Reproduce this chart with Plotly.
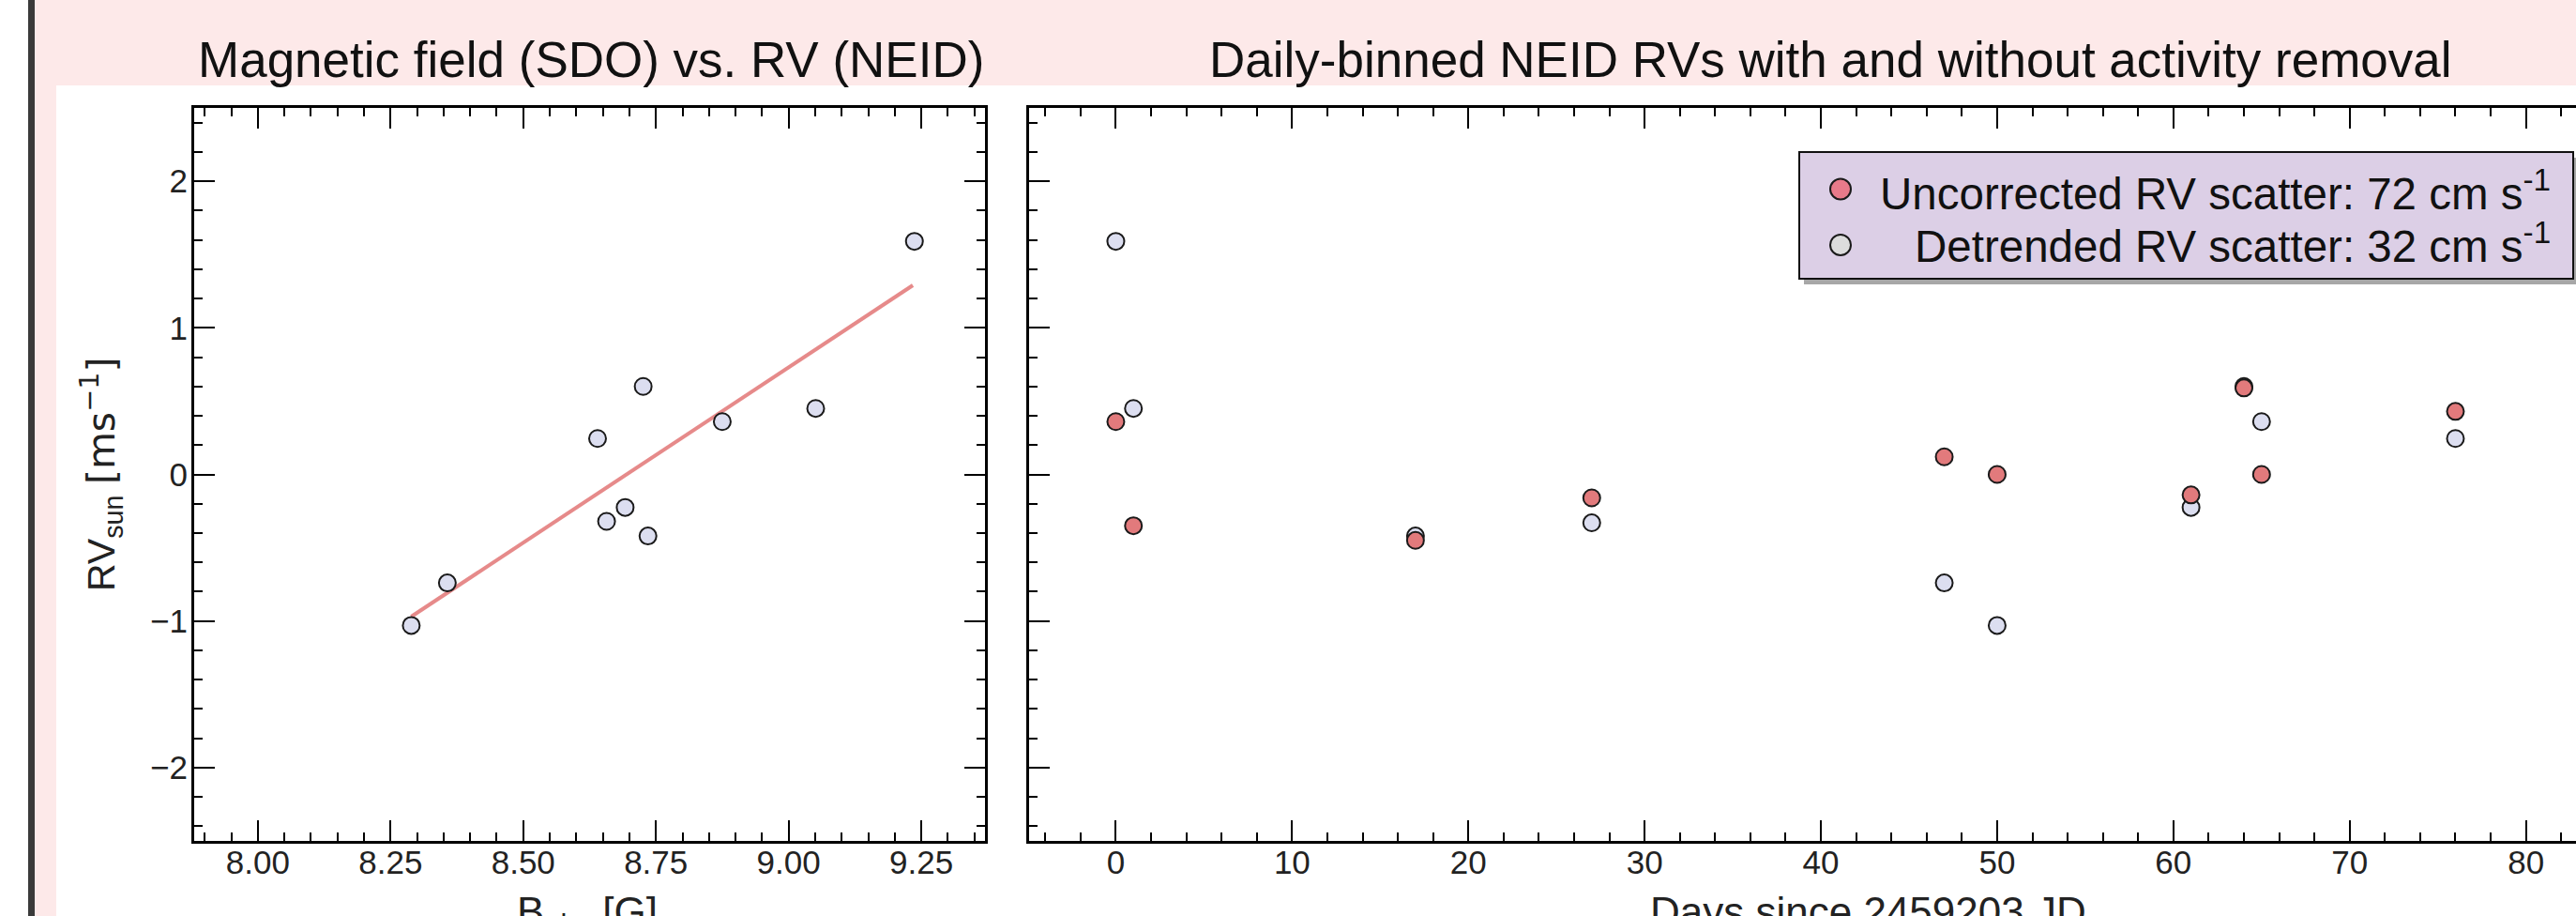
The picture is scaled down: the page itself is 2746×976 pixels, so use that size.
import plotly.graph_objects as go

W, H = 2746, 976

# ---------------- data ----------------
# Left panel: magnetic field (SDO) vs RV (NEID)
b_obs = [8.289, 8.357, 8.640, 8.657, 8.692, 8.726, 8.735, 8.875, 9.051, 9.237]
rv_sun = [-1.03, -0.74, 0.245, -0.32, -0.225, 0.60, -0.42, 0.36, 0.45, 1.59]
fit_b = [8.289, 9.234]
fit_rv = [-0.97, 1.29]

# Right panel: daily-binned NEID RVs
days = [0, 1, 17, 27, 47, 50, 61, 64, 65, 76]
rv_uncorrected = [0.36, -0.35, -0.45, -0.16, 0.12, 0.0, -0.14, 0.59, 0.0, 0.43]
rv_detrended = [1.59, 0.45, -0.42, -0.33, -0.74, -1.03, -0.225, 0.60, 0.36, 0.245]

legend_labels = ["Uncorrected RV scatter: 72 cm s<sup>-1</sup>",
                 "Detrended RV scatter: 32 cm s<sup>-1</sup>"]
titles = ["Magnetic field (SDO) vs. RV (NEID)",
          "Daily-binned NEID RVs with and without activity removal"]

# ---------------- styles ----------------
FONT = "Liberation Sans, Arial, Helvetica, sans-serif"
RED = "#e27a7c"
LAV = "#dcdef0"
EDGE = "#1a1a1a"


def px(x):
    return x / W


def py(y):
    return 1 - y / H


fig = go.Figure()

fig.add_trace(go.Scatter(x=fit_b, y=fit_rv, mode="lines", xaxis="x", yaxis="y",
                         line=dict(color="rgba(226,118,118,0.85)", width=4),
                         showlegend=False, hoverinfo="skip"))
fig.add_trace(go.Scatter(x=b_obs, y=rv_sun, mode="markers", xaxis="x", yaxis="y",
                         marker=dict(size=18, color=LAV, line=dict(color=EDGE, width=2)),
                         showlegend=False))
fig.add_trace(go.Scatter(x=days, y=rv_detrended, mode="markers", xaxis="x2", yaxis="y2",
                         marker=dict(size=18, color=LAV, line=dict(color=EDGE, width=2)),
                         name="Detrended", showlegend=False))
fig.add_trace(go.Scatter(x=days, y=rv_uncorrected, mode="markers", xaxis="x2", yaxis="y2",
                         marker=dict(size=18, color=RED, line=dict(color=EDGE, width=2)),
                         name="Uncorrected", showlegend=False))

common = dict(showline=True, linecolor="black", linewidth=3, ticks="inside",
              ticklen=22, tickwidth=2, tickcolor="black", showgrid=False,
              zeroline=False, tickfont=dict(family=FONT, size=35, color="#222"))

ydom = [py(896), py(115)]

fig.update_layout(
    width=W, height=H,
    margin=dict(l=0, r=0, t=0, b=0),
    paper_bgcolor="white", plot_bgcolor="rgba(0,0,0,0)",
    showlegend=False,
    xaxis=dict(domain=[px(207), px(1050)], range=[7.88, 9.37], anchor="y",
               tickmode="linear", tick0=8.0, dtick=0.25, tickformat=".2f",
               mirror="allticks", ticklabelstandoff=-10,
               minor=dict(ticks="inside", ticklen=9, tickwidth=1.5, tickcolor="black",
                          dtick=0.05, tick0=8.0, showgrid=False),
               **common),
    yaxis=dict(domain=ydom, range=[-2.5, 2.5], anchor="x",
               tickmode="linear", tick0=0, dtick=1, mirror="allticks",
               ticklabelstandoff=-3,
               minor=dict(ticks="inside", ticklen=9, tickwidth=1.5, tickcolor="black",
                          dtick=0.2, tick0=0, showgrid=False),
               **common),
    xaxis2=dict(domain=[px(1097), 1.0], range=[-4.92, 82.84], anchor="y2",
                tickmode="linear", tick0=0, dtick=10, mirror="allticks",
                ticklabelstandoff=-10,
                minor=dict(ticks="inside", ticklen=9, tickwidth=1.5, tickcolor="black",
                           dtick=2, tick0=0, showgrid=False),
                **common),
    yaxis2=dict(domain=ydom, range=[-2.5, 2.5], anchor="x2",
                tickmode="linear", tick0=0, dtick=1, mirror=False,
                showticklabels=False,
                minor=dict(ticks="inside", ticklen=9, tickwidth=1.5, tickcolor="black",
                           dtick=0.2, tick0=0, showgrid=False),
                **common),
)

shapes = [
    # pink page background
    dict(type="rect", xref="paper", yref="paper", x0=px(37), x1=1, y0=0, y1=1,
         fillcolor="#fde9e9", line=dict(width=0), layer="below"),
    # white panel
    dict(type="rect", xref="paper", yref="paper", x0=px(60), x1=1, y0=0, y1=py(91),
         fillcolor="white", line=dict(width=0), layer="below"),
    # dark bar on left
    dict(type="rect", xref="paper", yref="paper", x0=px(30), x1=px(37), y0=0, y1=1,
         fillcolor="#3a3a3a", line=dict(width=0), layer="below"),
    # legend shadow
    dict(type="rect", xref="paper", yref="paper", x0=px(1923), x1=px(2750), y0=py(303), y1=py(168),
         fillcolor="rgba(60,60,60,0.45)", line=dict(width=0), layer="above"),
    # legend box
    dict(type="rect", xref="paper", yref="paper", x0=px(1918), x1=px(2743), y0=py(297), y1=py(162),
         fillcolor="#dccfe6", line=dict(color="#111", width=2), layer="above"),
    # legend markers
    dict(type="circle", xref="paper", yref="paper", x0=px(1951), x1=px(1973), y0=py(212.5), y1=py(190.5),
         fillcolor="#e87a8a", line=dict(color=EDGE, width=2), layer="above"),
    dict(type="circle", xref="paper", yref="paper", x0=px(1951), x1=px(1973), y0=py(272), y1=py(250),
         fillcolor="#dcdcdc", line=dict(color=EDGE, width=2), layer="above"),
]

annotations = [
    dict(text=titles[0], x=px(630), y=py(64), xref="paper", yref="paper",
         xanchor="center", yanchor="middle", showarrow=False,
         font=dict(family=FONT, size=53, color="#111")),
    dict(text=titles[1], x=px(1952), y=py(64), xref="paper", yref="paper",
         xanchor="center", yanchor="middle", showarrow=False,
         font=dict(family=FONT, size=53, color="#111")),
    dict(text="RV<sub>sun</sub> <span style='font-family:DejaVu Sans'>[ms<sup>−1</sup>]</span>",
         x=px(107), y=py(505), xref="paper", yref="paper", textangle=-90,
         xanchor="center", yanchor="middle", showarrow=False,
         font=dict(family=FONT, size=41, color="#222")),
    dict(text="B<sub>obs</sub> [G]", x=px(626), y=py(945), xref="paper", yref="paper",
         xanchor="center", yanchor="top", showarrow=False,
         font=dict(family=FONT, size=44, color="#222")),
    dict(text="Days since 2459203 JD", x=px(1992), y=py(945), xref="paper", yref="paper",
         xanchor="center", yanchor="top", showarrow=False,
         font=dict(family=FONT, size=44, color="#222")),
    dict(text=legend_labels[0], x=px(2721), y=py(203), xref="paper", yref="paper",
         xanchor="right", yanchor="middle", showarrow=False,
         font=dict(family=FONT, size=47.5, color="#111")),
    dict(text=legend_labels[1], x=px(2721), y=py(259), xref="paper", yref="paper",
         xanchor="right", yanchor="middle", showarrow=False,
         font=dict(family=FONT, size=47.5, color="#111")),
]

fig.update_layout(shapes=shapes, annotations=annotations)

fig.write_html("out.html", config={"displayModeBar": False},
               post_script="document.body.style.margin='0px';document.body.style.overflow='hidden';")
